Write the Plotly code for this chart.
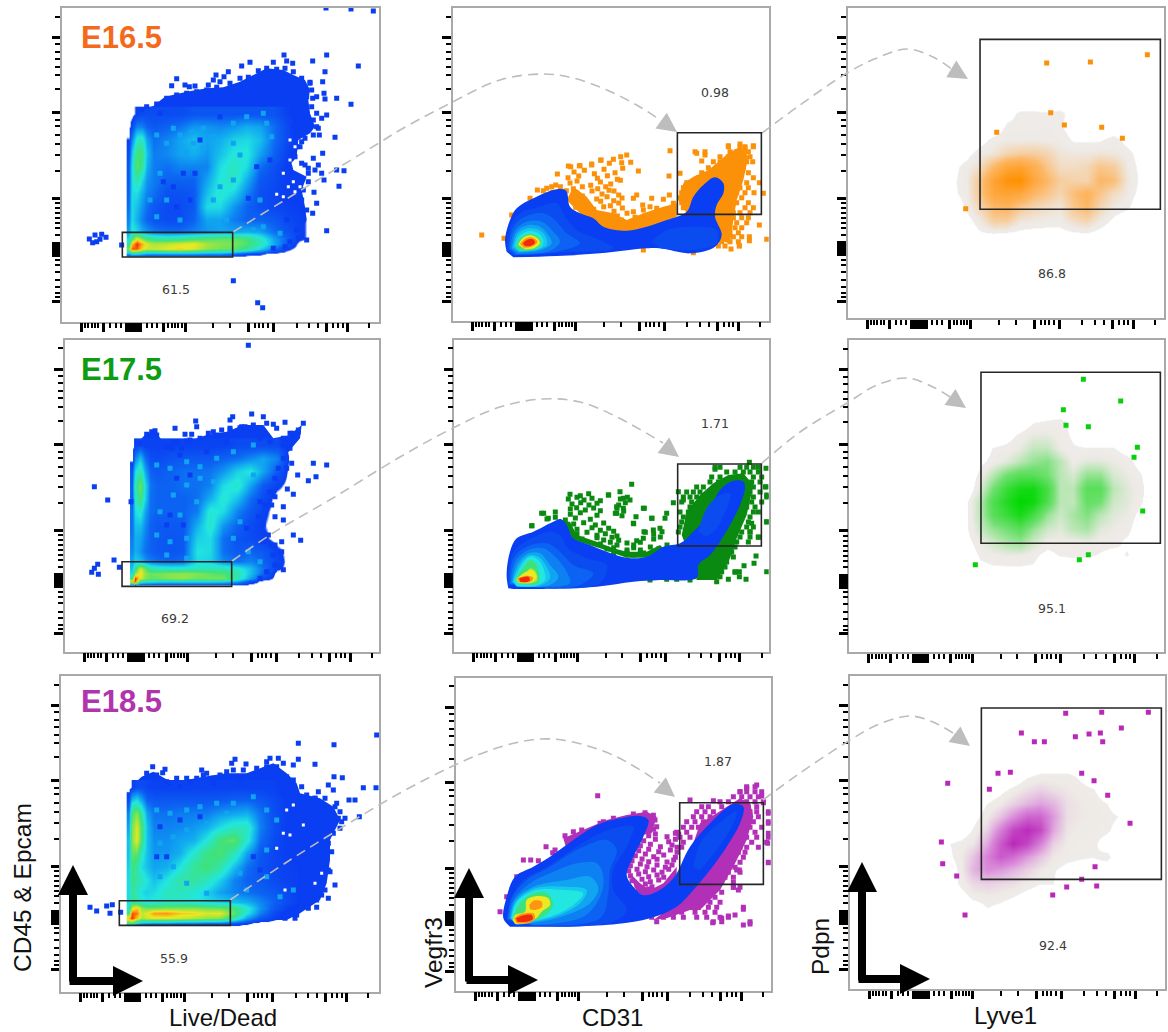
import plotly.graph_objects as go

# ---------- palette ----------
BLUE = "#0a3ef2"; B2 = "#0b4cf0"; B3 = "#0c62f2"; B4 = "#0d80f2"; B5 = "#10a4f1"; B6 = "#16c8ee"; CYAN = "#22e6e0"
GREEN = "#3fe27a"; LIME = "#a8e63c"; YELLOW = "#eee822"; ORANGE = "#ff9412"; RED = "#f02a0a"
ORANGE_DOT = "#fb9108"; GREEN_DOT = "#0b8a12"; PURPLE_DOT = "#b230b8"
JET = [[0, "rgba(10,62,242,0)"], [0.015, "rgba(10,62,242,0)"], [0.02, BLUE], [0.1, B3], [0.2, B5], [0.32, CYAN],
       [0.5, GREEN], [0.65, LIME], [0.75, YELLOW], [0.88, ORANGE], [1, RED]]
# (left, top, right, bottom of each frame on the page; range values in reading units)
FRAMES = {
 "11": (62.0, 8.0, 379.0, 321.7, 186, 1137, 965, 24),
 "12": (452.7, 8.0, 768.7, 320.7, 158, 1106, 962, 24),
 "13": (847.7, 8.0, 1163.7, 318.3, 143, 1091, 955, 24),
 "21": (64.7, 339.7, 379.0, 651.7, 194, 1137, 950, 14),
 "22": (454.3, 339.7, 768.7, 651.7, 163, 1106, 950, 14),
 "23": (849.3, 340.3, 1163.7, 652.3, 148, 1091, 952, 16),
 "31": (61.0, 676.0, 379.0, 991.7, 183, 1137, 965, 18),
 "32": (455.7, 677.7, 770.7, 990.7, 167, 1112, 962, 23),
 "33": (849.7, 676.0, 1164.7, 989.0, 149, 1094, 957, 18),
}
X_MAJOR = [58,124,192,198,204,210,216,222,228,233,236,304,369,559,634,794,856]
X_MINOR = [69,79,89,99,109,144,161,176,254,269,284,319,329,339,349,359,454,504,579,592,604,619,704,741,769,814,829,842,922]
Y_MAJOR = [89,314,571,705,711,717,723,729,735,741,881]
Y_MINOR = [26,109,131,154,176,201,244,336,354,381,408,441,489,586,601,616,631,646,661,681,756,771,791,816,836,856,868]
X_THICK = [58,124,304,369,559,634,794,856]
Y_THICK = [89,314,571,881]

# ---------- Live/Dead panels ----------
p11_outer = [(385,755),(384,640),(386,520),(390,430),(400,370),(418,330),(460,318),(495,290),(560,275),(620,265),(670,262),(720,245),(760,225),(800,205),(850,210),(880,225),(915,240),(930,270),(925,300),(930,340),(945,380),(930,400),(895,420),(890,470),(875,490),(880,510),(920,530),(905,570),(915,620),(920,660),(895,700),(880,715),(850,735),(800,750),(740,760),(640,760),(500,762),(385,762)]
p11_hx = [385,395,410,425,440,460,500,540,580,620,660,700,740,780,820,860,900,940]
p11_hy = [340,380,420,460,500,540,580,620,660,695,715,730,745,760,770]
p11_hz = [
 [0,0,.03,.05,.05,.05,.05,.05,.07,.07,.07,.07,.07,.07,.07,.03,0,0],
 [0,.05,.15,.15,.1,.08,.1,.13,.18,.18,.16,.18,.22,.2,.12,.05,0,0],
 [.02,.15,.35,.38,.2,.12,.15,.2,.25,.2,.22,.28,.3,.25,.12,.05,0,0],
 [.05,.25,.5,.5,.25,.14,.16,.2,.22,.18,.25,.33,.33,.2,.1,.03,0,0],
 [.08,.3,.55,.45,.22,.14,.12,.15,.15,.15,.3,.38,.3,.12,.06,.02,0,0],
 [.08,.3,.42,.3,.18,.14,.1,.1,.1,.2,.33,.38,.22,.08,.05,.02,0,0],
 [.1,.3,.3,.22,.15,.12,.06,.06,.08,.25,.35,.28,.15,.06,.04,.02,0,0],
 [.12,.3,.25,.18,.12,.08,.05,.05,.08,.3,.3,.18,.1,.06,.04,.03,.02,0],
 [.15,.3,.22,.15,.1,.07,.05,.05,.1,.2,.2,.14,.1,.1,.08,.05,.03,0],
 [.2,.35,.3,.22,.18,.14,.12,.12,.15,.18,.2,.2,.22,.2,.12,.07,.03,0],
 [.3,.5,.75,.6,.5,.45,.42,.45,.5,.52,.55,.55,.5,.38,.2,.1,.03,0],
 [.4,.8,1,.85,.72,.65,.68,.72,.75,.65,.6,.58,.52,.4,.22,.08,0,0],
 [.6,.95,.95,.78,.7,.7,.74,.78,.72,.62,.58,.55,.45,.3,.12,.03,0,0],
 [.2,.3,.3,.25,.2,.2,.2,.2,.2,.18,.18,.12,.05,.03,0,0,0,0],
 [0,0,0,0,0,0,0,0,0,0,0,0,0,0,0,0,0,0],
]
p11_dots = [(978,24),(1053,27),(1120,33),(852,165),(980,165),(938,183),(750,187),(725,198),(1075,198),(860,183),(820,187),(878,190),(530,236),(515,257),(555,255),(568,260),(585,258),(648,225),(640,240),(625,255),(685,215),(672,230),(660,245),(975,215),(968,245),(930,247),(972,280),(1010,295),(975,297),(1053,313),(980,345),(965,355),(1005,412),(958,405),(968,460),(940,475),(1010,510),(1032,512),(1017,559),(972,540),(942,577),(950,610),(938,640),(980,692),(920,720),(700,842),(773,908),(788,923),(915,495),(955,495),(965,520),(925,520),(890,440),(905,425),(950,380),(938,295),(950,290),(268,717),(285,705),(305,703),(318,712),(300,718),(278,728),(290,725),(365,735)]
p11_edge = [(440,320),(425,330),(470,312),(500,295),(530,285),(560,280),(590,275),(620,270),(650,262),(690,250),(720,235),(745,232),(775,212),(800,205),(830,208),(855,205),(880,215),(905,235),(930,250),(935,270),(920,290),(935,320),(950,340),(940,360),(955,385),(940,405),(915,415),(900,440),(885,470),(905,490),(925,505),(945,510),(925,545),(910,570),(905,600),(920,630),(910,660),(890,690),(895,715),(870,725),(855,740),(820,745)]
p11_light = [(540,405),(575,395),(610,385),(580,430),(640,410),(560,455),(610,445),(500,430),(470,405),(520,385),(700,370),(740,350),(790,340),(700,430),(720,465),(660,560),(640,600),(700,540),(815,410),(800,370),(480,520),(500,600),(450,600),(470,650),(540,660),(780,600),(790,680),(840,700),(680,660),(760,690)]
p11_dark = [(520,560),(550,520),(490,545),(570,600),(530,620),(585,520),(600,420),(660,350),(770,500),(745,595),(810,480),(850,600),(830,300),(540,310),(640,300),(480,340),(870,300),(880,380),(860,660)]
p11_holes = [(870,420),(885,440),(880,490),(870,480),(850,520),(880,545),(865,560),(885,575),(830,583),(850,590),(900,560)]

p21_outer = [(395,745),(395,640),(398,520),(395,440),(402,350),(410,325),(440,295),(465,290),(490,320),(520,345),(560,320),(620,300),(680,290),(730,270),(790,270),(820,310),(870,300),(905,270),(900,310),(870,345),(840,385),(825,440),(805,480),(790,520),(770,560),(800,600),(810,650),(830,690),(790,720),(730,735),(690,745),(500,745)]
p21_hx = [395,405,420,435,450,470,510,550,590,630,670,710,750,790,830,870]
p21_hy = [330,370,410,450,490,530,570,610,650,680,700,715,730,740,750]
p21_hz = [
 [0,.03,.05,.03,.03,.03,.03,.03,.03,.03,.03,.05,.05,.05,.05,0],
 [0,.15,.25,.12,.06,.05,.07,.08,.08,.08,.1,.12,.16,.2,.15,0],
 [.08,.3,.42,.2,.1,.08,.1,.12,.12,.13,.18,.28,.33,.2,.08,0],
 [.1,.4,.58,.3,.13,.1,.1,.12,.12,.15,.3,.36,.2,.08,.03,0],
 [.1,.35,.52,.28,.12,.1,.1,.1,.12,.22,.35,.25,.12,.05,0,0],
 [.12,.3,.35,.2,.12,.1,.1,.1,.14,.35,.3,.15,.08,.03,0,0],
 [.12,.25,.25,.16,.1,.08,.08,.08,.22,.36,.18,.1,.05,.02,0,0],
 [.14,.22,.2,.14,.1,.08,.07,.08,.28,.3,.12,.07,.05,.03,0,0],
 [.16,.22,.18,.12,.1,.08,.07,.08,.32,.3,.12,.08,.1,.08,.03,0],
 [.2,.28,.25,.18,.14,.12,.1,.12,.3,.28,.16,.12,.15,.1,.04,0],
 [.25,.45,.7,.55,.42,.38,.36,.36,.38,.4,.4,.35,.25,.12,.03,0],
 [.3,.62,.78,.62,.56,.58,.6,.62,.6,.55,.52,.42,.25,.1,0,0],
 [.5,1,.72,.6,.55,.56,.6,.62,.56,.58,.58,.4,.2,.05,0,0],
 [.8,.95,.4,.35,.33,.3,.3,.3,.3,.3,.28,.2,.05,0,0,0],
 [0,.02,0,0,0,0,0,0,0,0,0,0,0,0,0,0],
]
p21_dots = [(745,31),(755,237),(790,245),(698,245),(690,255),(587,258),(590,275),(525,280),(555,298),(575,298),(640,290),(665,285),(690,280),(725,275),(735,275),(765,280),(800,265),(820,268),(830,280),(855,262),(910,265),(895,290),(880,295),(283,455),(323,495),(393,500),(940,385),(980,390),(875,385),(860,400),(893,420),(925,437),(948,425),(862,462),(880,478),(850,515),(850,555),(880,600),(902,616),(845,620),(845,650),(850,704),(342,675),(358,697),(293,688),(275,712),(295,718),(283,700),(825,485),(815,510),(825,545),(825,630),(520,320),(560,318),(515,340),(465,287)]
p21_edge = [(420,325),(440,298),(455,290),(470,300),(500,335),(530,320),(545,340),(570,315),(600,310),(625,295),(650,300),(690,285),(720,278),(760,270),(785,290),(810,320),(850,310),(870,295),(895,285),(870,340),(850,370),(835,400),(825,430),(810,470),(795,510),(775,545),(790,570),(805,600),(815,630),(820,660),(825,690),(800,710),(780,730)]
p21_light = [(470,390),(510,400),(560,380),(600,395),(650,370),(700,350),(760,330),(560,450),(520,480),(480,530),(540,540),(590,500),(470,600),(510,620),(560,610),(500,660),(560,670),(720,560),(700,610),(745,650),(780,680),(760,420),(640,440),(600,430)]
p21_dark = [(530,430),(510,540),(500,570),(550,570),(570,420),(620,350),(680,320),(780,500),(740,580),(790,620),(540,360),(780,310),(850,330)]
p21_holes = []

p31_outer = [(383,760),(382,600),(384,390),(398,345),(425,320),(460,305),(520,340),(560,330),(610,320),(680,310),(740,310),(820,280),(860,310),(890,340),(900,370),(960,385),(1000,410),(1020,450),(990,510),(990,570),(980,640),(960,690),(900,730),(860,750),(780,750),(700,752),(385,762)]
p31_hx = [385,395,410,425,440,460,500,540,580,620,660,700,740,780,820,860,900,940]
p31_hy = [350,390,430,470,510,550,590,630,665,695,715,730,745,758,768]
p31_hz = [
 [0,.02,.05,.05,.04,.03,.03,.03,.03,.03,.03,.03,.03,.03,.03,0,0,0],
 [.05,.25,.3,.2,.1,.08,.08,.08,.08,.08,.08,.1,.1,.08,.05,.02,0,0],
 [.15,.5,.6,.4,.2,.13,.12,.14,.14,.14,.18,.2,.22,.13,.06,.02,0,0],
 [.2,.58,.72,.5,.25,.15,.15,.16,.18,.22,.3,.38,.38,.15,.06,.02,0,0],
 [.25,.6,.74,.48,.25,.17,.17,.2,.22,.33,.5,.55,.35,.12,.05,.02,0,0],
 [.25,.55,.55,.35,.25,.18,.18,.22,.35,.48,.52,.4,.2,.08,.04,.02,0,0],
 [.28,.5,.42,.3,.25,.2,.22,.32,.45,.5,.42,.25,.12,.07,.04,.03,.02,0],
 [.3,.48,.42,.38,.32,.25,.32,.42,.44,.38,.28,.15,.1,.08,.05,.03,.02,0],
 [.3,.45,.38,.3,.28,.3,.38,.38,.34,.28,.2,.15,.12,.1,.08,.05,.02,0],
 [.3,.45,.42,.35,.32,.34,.36,.36,.34,.3,.28,.25,.22,.16,.1,.05,.02,0],
 [.35,.7,.8,.62,.58,.58,.6,.6,.6,.58,.56,.5,.35,.18,.08,.03,0,0],
 [.5,.95,.92,.68,.74,.86,.88,.8,.78,.72,.74,.55,.32,.15,.05,0,0,0],
 [.8,1,.8,.65,.7,.72,.72,.7,.66,.62,.6,.42,.2,.08,.03,0,0,0],
 [.5,.5,.3,.22,.2,.18,.18,.15,.15,.12,.12,.08,.03,0,0,0,0,0],
 [0,0,0,0,0,0,0,0,0,0,0,0,0,0,0,0,0,0],
]
p31_dots = [(1130,195),(895,220),(1002,224),(705,268),(695,280),(738,282),(810,265),(835,265),(800,275),(850,280),(895,268),(945,283),(880,285),(1002,320),(1027,323),(1128,353),(1090,353),(495,298),(458,290),(488,308),(605,300),(610,315),(560,325),(570,335),(640,325),(665,320),(680,305),(510,340),(270,712),(290,723),(320,708),(337,704),(330,730),(362,727),(1047,390),(1065,390),(1035,445),(1015,445),(1078,440),(1020,475),(1010,400),(985,345),(1000,360),(955,365),(945,385),(990,605),(1005,645),(985,685),(965,675),(950,712),(925,715),(885,745)]
p31_edge = [(440,310),(470,315),(500,335),(530,325),(590,325),(620,310),(660,315),(700,300),(730,300),(770,295),(800,290),(830,290),(860,320),(880,330),(905,350),(920,375),(945,385),(975,385),(1005,410),(1020,425),(1025,455),(1000,490),(985,520),(995,545),(975,580),(985,600),(965,630),(975,660),(950,690),(920,710),(890,735),(855,745)]
p31_light = [(470,420),(510,430),(560,420),(600,410),(650,400),(700,400),(760,380),(800,420),(480,520),(520,500),(560,480),(620,460),(520,590),(480,620),(720,610),(740,660),(800,620),(840,680),(880,660),(800,540),(830,450),(620,670),(560,640),(680,430)]
p31_dark = [(480,470),(540,450),(600,440),(500,560),(470,560),(760,560),(780,600),(860,500),(920,560),(900,620),(950,480),(880,420),(640,340),(720,330),(540,350),(790,310)]
p31_holes = [(860,420),(880,405),(910,465),(870,495),(850,490),(830,535),(855,660),(965,610),(945,640)]

# ---------- CD31 panels ----------
p12_cloud_right = [(950,720),(990,730),(1000,660),(1010,600),(1030,540),(1045,470),(1020,440),(985,460),(950,490),(925,510),(880,530),(850,550),(835,600),(860,640)]
p12_cloud_left = [(500,600),(520,560),(560,590),(590,630),(640,640),(680,660),(730,640),(790,620),(830,610),(830,650),(700,700),(590,690)]
p12_dots = [(245,705),(312,715),(1100,718),(1090,580),(1078,675),(1048,722),(1018,737),(993,747),(810,452),(807,528),(840,520),(890,460),(915,465),(905,483),(985,437),(1060,437),(1020,432),(1035,445),(680,465),(662,470),(640,478),(665,488),(692,487),(715,513),(603,480),(575,495),(540,497),(505,498),(472,522),(467,555),(455,560),(440,565),(412,570),(430,572),(390,595),(335,645),(710,585),(700,595),(755,595),(750,620),(728,615),(790,598),(808,585),(770,625),(820,610),(880,758),(730,750)]
p12_hump = [(512,500),(538,497),(575,492),(602,481),(628,490),(522,516),(553,511),(583,521),(612,508),(645,518),(668,505),(504,533),(536,528),(592,535),(622,527),(652,538),(510,549),(531,543),(572,556),(601,546),(632,552),(661,541),(481,560),(520,566),(547,560),(593,566),(617,560),(642,573),(457,577),(499,572),(530,579),(576,573),(606,582),(627,571),(656,585),(516,593),(547,588),(590,597),(621,590),(641,602),(666,594),(531,606),(562,611),(602,604),(631,617),(656,609),(527,622),(581,628),(611,620),(642,634),(667,624),(681,640),(562,640),(592,645),(622,652),(652,648),(700,635),(730,630),(705,652),(735,648),(762,640),(782,632),(645,668),(664,660),(692,668),(722,660),(752,655),(652,682),(682,678),(702,685)]
p12_rows = {440:[985,1020,1035,1060],455:[885,915,990,1010,1030,1045],470:[960,985,1000,1025,1050],485:[940,960,980,1005,1040,1058],503:[925,950,975,1000,1030],518:[905,930,960,985,1020,1045],533:[895,920,945,1000,1015,1060],548:[860,880,905,1000,1040,1078],563:[850,870,890,985,1020,1045],578:[845,875,985,1010,1035,1062],593:[840,870,965,1000,1025],608:[845,860,960,985,1010,1045],623:[850,955,985,1035,1060],638:[945,975,1000,1020,1050],653:[950,970,1000,1025,1045],668:[955,985,1010,1040],683:[965,985,1005,1025],698:[970,990,1015],710:[975,1000,1025,1048],725:[965,990,1015],738:[955,975,1018]}
p12_outer = [(320,755),(315,720),(330,660),(350,625),(400,595),(470,568),(498,572),(510,620),(540,640),(580,655),(610,680),(680,692),(740,680),(800,660),(860,635),(880,590),(910,555),(945,532),(970,550),(970,580),(950,615),(945,650),(965,705),(945,740),(870,760),(780,745),(740,745),(600,760),(470,768),(340,772)]
p12_b2 = [(320,752),(330,680),(360,640),(420,620),(470,610),(495,650),(530,690),(600,720),(640,745),(480,758),(340,765)]
p12_b2r = [(755,725),(800,690),(900,680),(950,690),(950,730),(880,750),(780,745)]
p12_b3 = [(325,745),(340,680),(375,650),(430,640),(465,660),(500,700),(540,730),(470,755),(345,765)]
p12_b4 = [(330,745),(345,690),(380,665),(425,665),(455,690),(480,725),(450,752),(350,762)]
p12_b5 = [(335,745),(350,695),(385,675),(420,680),(445,705),(455,730),(425,750),(355,758)]
p12_b6 = [(340,742),(352,703),(385,685),(418,690),(438,712),(440,735),(410,750),(358,755)]
p12_cyan = [(345,738),(358,708),(388,693),(415,700),(430,720),(425,740),(395,750),(358,752)]
p12_green = [(348,736),(362,713),(388,702),(412,708),(425,728),(410,745),(375,752),(355,750)]
p12_yellow = [(354,734),(366,716),(390,706),(412,715),(420,730),(402,745),(375,748)]
p12_orange = [(360,732),(375,716),(395,712),(412,725),(395,740),(372,743)]
p12_red = [(368,730),(380,720),(398,718),(405,728),(390,738),(375,738)]

p22_cloud_right = [(890,735),(950,735),(990,670),(1010,610),(1040,540),(1060,450),(1030,415),(985,420),(940,445),(900,480),(860,530),(845,600),(860,640),(880,700)]
p22_cloud_left = [(490,560),(510,560),(530,600),(590,620),(640,640),(680,650),(740,650),(780,630),(790,640),(740,668),(680,668),(600,640),(520,615)]
p22_dots = [(695,448),(660,470),(670,490),(690,495),(625,480),(730,520),(650,515),(670,520),(650,535),(708,545),(700,565),(755,550),(800,535),(795,550),(820,503),(835,470),(850,495),(732,590),(760,585),(780,580),(710,617),(730,610),(395,572),(425,535),(445,550),(1100,710),(1068,663),(1062,685),(1032,692),(1038,733),(1018,710),(1005,712),(985,733),(1100,560),(1100,480),(1098,455),(1075,607),(1055,565),(1050,590),(950,740),(870,735),(830,733),(800,733),(750,735),(945,403),(1048,382),(1098,400)]
p22_hump = [(510,478),(541,482),(566,476),(626,480),(505,492),(531,487),(552,495),(576,490),(601,497),(661,492),(682,487),(516,507),(542,503),(567,510),(591,505),(656,510),(676,503),(511,522),(530,518),(556,525),(581,519),(601,527),(651,520),(671,528),(733,520),(431,535),(466,531),(511,538),(541,533),(591,541),(646,535),(666,542),(441,552),(466,547),(496,555),(526,549),(571,553),(756,550),(521,567),(551,563),(586,570),(611,564),(701,566),(396,572),(531,583),(576,578),(601,586),(626,580),(641,589),(531,597),(561,592),(591,601),(616,596),(651,603),(736,592),(761,598),(786,590),(546,612),(591,608),(611,615),(636,607),(656,616),(761,612),(781,606),(601,627),(631,622),(651,630),(681,624),(701,630),(721,622),(621,642),(641,638),(681,645),(701,638),(721,645),(751,636),(776,642),(801,630),(641,656),(681,652),(701,660),(731,654),(761,650)]
p22_rows = {397:[945,960,1020,1040,1060,1075],411:[980,1005,1030,1050,1075],426:[935,960,1060,1085],441:[930,955,1055,1080],456:[890,910,1060,1095],471:[860,880,900,1050,1080],486:[850,870,890,1060,1100],501:[845,875,1055,1085],516:[870,1040,1065],531:[840,865,1030,1060,1075],546:[850,880,1025,1050],561:[845,1015,1045,1100],576:[840,1005,1040,1060],591:[835,1000,1025,1050],606:[1000,1020,1050,1075],621:[985,1010,1045],636:[965,985,1005],651:[950,970,995],666:[930,955,980,1000],681:[910,935,955,980],696:[905,930,955,975],710:[895,920,945,965,1005],725:[880,905,930,960,1018]}
p22_outer = [(325,760),(320,720),(330,650),(350,610),(400,590),(460,560),(482,552),(500,570),(520,610),(570,630),(620,650),(680,668),(740,665),(790,635),(840,625),(880,590),(920,545),(960,465),(1000,437),(1030,440),(1035,460),(1020,510),(990,570),(960,620),(930,660),(895,690),(890,728),(780,735),(700,740),(590,755),(400,762),(340,762)]
p22_b2 = [(325,750),(335,660),(375,620),(450,590),(480,600),(505,640),(560,670),(620,690),(600,745),(400,757)]
p22_lobe = [(895,590),(920,520),(960,480),(990,475),(980,520),(950,580),(920,605)]
p22_b3 = [(328,748),(340,670),(380,635),(440,625),(480,650),(520,690),(580,715),(540,750),(400,757)]
p22_b4 = [(332,745),(345,680),(385,645),(430,640),(470,670),(500,710),(510,745),(420,755)]
p22_b5 = [(336,742),(350,690),(385,655),(420,655),(450,690),(475,725),(450,750),(360,755)]
p22_b6 = [(338,740),(355,695),(385,662),(415,665),(440,695),(450,730),(420,752),(350,755)]
p22_cyan = [(342,738),(362,695),(390,665),(415,675),(432,705),(435,735),(405,752),(350,752)]
p22_green = [(345,735),(368,700),(392,675),(410,690),(418,720),(415,745),(370,748)]
p22_lime = [(348,732),(375,715),(392,700),(408,712),(412,735),(395,745),(355,745)]
p22_yellow = [(352,730),(375,712),(395,705),(410,725),(395,742),(358,742)]
p22_orange = [(352,730),(380,722),(400,728),(392,740),(358,742)]
p22_red = [(358,730),(385,725),(390,735),(380,741),(360,740)]

p32_cloud_right = [(880,620),(830,700),(760,750),(800,745),(870,720),(900,720),(960,660),(1000,590),(1040,510),(1060,440),(1050,400),(1020,385),(950,430),(900,460),(880,520),(900,580)]
p32_cloud_left = [(700,640),(690,610),(720,640),(750,660),(790,640),(830,590),(830,640),(790,670),(740,682),(710,665)]
p32_cloud_top = [(490,505),(560,475),(620,450),(680,435),(740,425),(770,440),(755,490),(700,500),(600,500),(500,540)]
p32_dots = [(593,377),(1105,430),(1105,460),(1105,490),(1103,520),(1105,578),(1085,378),(1070,345),(1040,355),(1020,365),(1090,398),(1030,718),(1050,762),(1030,765),(1005,735),(985,738),(965,745),(938,758),(1015,660),(1000,652),(870,390),(940,392),(370,570),(392,570),(438,530),(458,548),(495,497),(520,485),(320,680),(300,725),(1010,600),(1018,600),(640,445),(610,455),(700,432),(735,428),(760,436),(765,450),(750,465),(600,460),(545,480),(465,540),(415,572),(350,620)]
p32_hump = [(770,470),(735,473),(740,482),(761,478),(826,490),(746,497),(766,492),(801,500),(836,493),(731,512),(766,508),(806,515),(826,508),(721,527),(751,523),(781,530),(816,525),(831,532),(716,542),(746,538),(776,545),(811,540),(831,547),(706,557),(736,552),(761,560),(791,555),(826,562),(696,572),(726,567),(746,575),(771,568),(801,576),(821,570),(691,587),(721,582),(741,590),(771,585),(796,592),(816,585),(686,602),(711,598),(736,605),(761,600),(786,607),(806,598),(691,617),(716,612),(746,620),(771,615),(791,622),(696,632),(726,628),(751,635),(776,630),(711,647),(736,642),(756,650),(726,662),(746,657)]
p32_rows = {350:[1040,1065],365:[1020,1040,1065,1085],380:[1000,1025,1050,1075],395:[960,985,1040,1065,1090],410:[905,925,965,1045,1070],425:[890,915,940,1050,1070,1105],440:[880,905,930,1045,1075],455:[860,885,910,1035,1060,1105],472:[850,875,895,1035,1050,1085],487:[830,860,1030,1065],502:[840,870,1020,1040,1070,1105],517:[850,1005,1025,1055,1100],532:[845,995,1020,1040,1075],547:[985,1015,1035],562:[975,1000,1030],577:[960,990,1020,1105],592:[945,975,1005],607:[930,955,985,1020],622:[915,950,975,1000],637:[895,930,965,1000],652:[880,915,950,1000,1020],667:[860,895,930,965],682:[850,880,915,945],697:[840,870,905,930,960],712:[830,860,895,925,950,1030],727:[815,845,885,915,945],742:[755,790,820,850,890,920,960,985],755:[770,940,965,1050]}
p32_outer = [(330,770),(310,745),(320,680),(345,620),(400,590),(450,560),(520,510),(590,465),(660,445),(720,438),(745,450),(730,500),(700,560),(680,615),(700,650),(730,675),(770,665),(820,625),(870,530),(930,460),(1000,402),(1030,410),(1020,460),(980,530),(930,600),(880,660),(830,710),(750,745),(650,762),(500,770)]
p32_b2 = [(320,750),(335,680),(370,630),(440,590),(530,530),(600,490),(660,470),(700,470),(680,530),(640,600),(640,660),(680,720),(640,755),(400,768)]
p32_lobe = [(880,590),(900,520),(950,465),(1010,425),(990,480),(950,540),(900,600)]
p32_b3 = [(322,748),(335,685),(380,630),(450,590),(540,535),(620,510),(650,540),(630,600),(625,670),(600,745),(400,765)]
p32_b4 = [(325,745),(340,690),(390,640),(450,610),(530,580),(590,580),(610,620),(600,680),(550,740),(400,765)]
p32_b5 = [(330,745),(345,690),(400,650),(500,630),(570,620),(595,655),(570,700),(470,745),(350,765)]
p32_b6 = [(332,745),(348,695),(405,655),(495,650),(560,660),(540,700),(460,742),(350,762)]
p32_cyan = [(335,745),(350,695),(410,660),(490,660),(550,670),(520,705),(450,740),(350,758)]
p32_green = [(338,745),(360,700),(400,670),(440,670),(460,705),(420,745),(350,760)]
p32_yellow = [(338,750),(345,735),(375,725),(380,690),(410,678),(445,685),(450,705),(425,725),(408,745),(380,760),(345,762)]
p32_orange_up = [(388,705),(400,692),(425,695),(425,712),(405,720),(390,718)]
p32_orange_low = [(342,745),(360,733),(400,730),(405,745),(390,758),(350,760)]
p32_red = [(348,745),(365,737),(395,735),(398,748),(380,755),(352,755)]

# ---------- Lyve1 panels ----------
p13_x = [460,500,540,580,620,660,700,740,780,820,860,900,940,980,1020]
p13_y = [300,340,380,420,460,500,540,580,620,660,700,740]
p13_z = [
 [0,0,0,0,0,0,0,0,0,0,0,0,0,0,0],
 [0,0,0,0,.05,.12,.12,.11,.13,.04,0,0,0,0,0],
 [0,0,0,0,.12,.13,.12,.14,.11,.05,0,0,0,0,0],
 [0,0,.05,.14,.16,.16,.17,.16,.14,.09,.09,.09,.15,.06,0],
 [0,.06,.15,.2,.3,.35,.35,.3,.2,.18,.18,.2,.18,.14,.05],
 [.07,.14,.25,.5,.7,.75,.6,.4,.25,.25,.28,.4,.35,.17,.07],
 [.08,.17,.4,.75,.95,1,.7,.5,.35,.32,.3,.5,.45,.2,.08],
 [.08,.15,.4,.7,.75,.7,.5,.4,.3,.45,.55,.4,.25,.17,.06],
 [0,.13,.3,.5,.55,.4,.3,.25,.2,.4,.5,.3,.17,.13,0],
 [0,.05,.17,.35,.35,.2,.17,.15,.15,.25,.3,.17,.07,0,0],
 [0,0,.08,.1,.08,.06,.05,.05,.05,.08,.09,.05,0,0,0],
 [0,0,0,0,0,0,0,0,0,0,0,0,0,0,0],
]
p13_dots = [(740,189),(871,186),(1042,164),(752,338),(793,375),(905,382),(590,397),(967,415),(497,626)]

p23_x = [500,540,580,620,660,700,740,780,820,860,900,940,980,1020,1060]
p23_y = [220,260,300,340,380,420,460,500,540,580,620,660,700,740]
p23_z = [
 [0,0,0,0,0,0,0,0,0,0,0,0,0,0,0],
 [0,0,0,0,0,.09,.11,.13,.06,0,0,0,0,0,0],
 [0,0,0,.05,.12,.18,.18,.14,.08,0,0,0,0,0,0],
 [0,0,.11,.13,.18,.28,.28,.16,.11,.11,.11,.11,.05,0,0],
 [0,.07,.14,.2,.3,.4,.45,.3,.15,.2,.2,.17,.14,.05,0],
 [0,.13,.3,.5,.6,.6,.5,.3,.22,.4,.4,.22,.17,.11,0],
 [0,.2,.5,.75,.9,.92,.7,.3,.3,.6,.6,.3,.2,.14,0],
 [.09,.3,.65,.85,1,.95,.65,.3,.28,.55,.5,.25,.2,.12,0],
 [.09,.3,.6,.75,.9,.7,.4,.25,.35,.45,.3,.2,.17,.06,0],
 [.09,.25,.4,.5,.6,.4,.25,.2,.3,.35,.2,.17,.14,0,0],
 [.06,.17,.25,.35,.4,.25,.15,.15,.15,.17,.14,.14,.07,0,0],
 [0,.12,.15,.17,.17,.13,.06,.11,.12,.12,.09,.05,.11,0,0],
 [0,.06,.08,.08,.08,.08,0,0,0,0,0,0,0,0,0],
 [0,0,0,0,0,0,0,0,0,0,0,0,0,0,0],
]
p23_dots = [(850,133),(962,198),(790,224),(865,275),(798,271),(1012,337),(1002,367),(1028,528),(526,689),(838,674),(865,659)]

p33_x = [440,480,520,560,600,640,680,720,760,800,840,880,920,960,1000]
p33_y = [280,320,360,400,440,480,520,560,600,640,680,720,760]
p33_z = [
 [0,0,0,0,0,0,0,0,0,0,0,0,0,0,0],
 [0,0,0,0,0,0,.09,.13,.14,.14,.08,0,0,0,0],
 [0,0,0,0,.06,.13,.2,.25,.2,.17,.14,.11,0,0,0],
 [0,0,0,.1,.16,.25,.35,.42,.35,.2,.17,.15,.1,0,0],
 [0,0,.05,.16,.3,.5,.7,.7,.45,.2,.17,.15,.14,.09,0],
 [0,0,.11,.25,.55,.85,.98,.85,.4,.18,.15,.14,.12,.03,0],
 [.09,.13,.18,.4,.75,1,.85,.55,.25,.15,.13,.12,.04,0,0],
 [.07,.14,.3,.55,.75,.65,.45,.3,.17,.13,.11,.1,.13,0,0],
 [0,.13,.35,.5,.45,.35,.25,.17,.11,.06,.05,.06,.03,0,0],
 [0,.12,.22,.25,.22,.2,.15,.1,.1,0,0,0,0,0,0],
 [0,.03,.13,.15,.14,.1,.04,0,.04,0,0,0,0,0,0],
 [0,0,0,.09,.05,0,0,0,0,0,0,0,0,0,0],
 [0,0,0,0,0,0,0,0,0,0,0,0,0,0,0],
]
p33_dots = [(797,130),(905,127),(1045,127),(664,189),(703,215),(733,215),(826,200),(867,192),(901,189),(908,215),(964,174),(594,310),(631,307),(568,358),(443,340),(845,310),(882,332),(923,376),(990,460),(424,516),(428,581),(470,618),(845,628),(800,651),(890,648),(758,675),(885,590),(495,735)]

# ---------- gates, labels ----------
GATES = {"11":(367,698,697,771),"21":(366,695,680,754),"31":(358,691,692,766),
         "12":(832,1084,398,643),"22":(833,1084,387,633),"32":(839,1090,398,643),
         "13":(540,1081,118,628),"23":(543,1081,112,625),"33":(544,1084,114,628)}
GATE_TEXT = {"11":("61.5",528,868),"21":("69.2",525,851),"31":("55.9",521,864),
             "12":("0.98",945,276),"22":("1.71",946,265),"32":("1.87",953,274),
             "13":("86.8",757,822),"23":("95.1",757,822),"33":("92.4",760,825)}
STAGES = {"11":("E16.5","#f46a1c",365,112),"21":("E17.5","#0d9c12",365,103),"31":("E18.5","#b034ab",365,95)}

# ---------- connectors (page pixels) ----------
link_r1a = [(233,232),(293,195),(379,143),(400,130),(443,107),(500,80),(543,74),(573,78),(607,90),(640,107),(663,122)]
link_r1b = [(762,133),(800,105),(847,73),(877,58),(907,49),(933,57),(953,70)]
link_r2a = [(232,561),(273,533),(333,498),(400,457),(453,428),(500,407),(543,399),(580,402),(617,417),(663,443)]
link_r2b = [(762,463),(800,432),(847,403),(877,385),(907,378),(933,387),(950,397)]
link_r3a = [(230,900),(290,860),(333,833),(400,793),(455,765),(500,747),(540,739),(573,742),(617,757),(660,783)]
link_r3b = [(763,800),(800,773),(847,742),(877,725),(910,716),(933,722),(953,733)]
grey_tips = [(677,132,663,122),(968,79,953,70),(679,457,663,445),(966,408,950,397),(675,797,660,785),(970,746,953,733)]
black_arrows = [(73,983,73,865),(68,981,143,981),(469,983,469,868),(465,980,538,980),(862,982,862,862),(857,979,930,979)]
axis_x_titles = [("Live/Dead",223,1017),("CD31",612,1017),("Lyve1",1005,1015)]
axis_y_titles = [("CD45 & Epcam",22,888),("Vegfr3",433,953),("Pdpn",820,947)]

fig = go.Figure()
W, H = 1168, 1032
ids = {k: i + 1 for i, k in enumerate(FRAMES)}
below_shapes = []

def ax(k):
    n = ids[k]
    return ("x" if n == 1 else f"x{n}"), ("y" if n == 1 else f"y{n}")

def rows(d):
    return [(x, y) for y, xs in d.items() for x in xs]

def blob(k, pts, color, smooth=True):
    xa, ya = ax(k)
    fig.add_trace(go.Scatter(x=[p[0] for p in pts], y=[p[1] for p in pts], xaxis=xa, yaxis=ya, mode="lines",
                             fill="toself", fillcolor=color, hoverinfo="skip",
                             line=dict(width=0, shape="spline" if smooth else "linear", smoothing=1, color=color)))

def dots(k, pts, color, size=5):
    if not pts:
        return
    xa, ya = ax(k)
    fig.add_trace(go.Scatter(x=[p[0] for p in pts], y=[p[1] for p in pts], xaxis=xa, yaxis=ya, mode="markers",
                             hoverinfo="skip", marker=dict(symbol="square", size=size, color=color, line=dict(width=0))))

def density(k, xs, ys, zs, mid, peak):
    xa, ya = ax(k)
    fig.add_trace(go.Heatmap(x=xs, y=ys, z=zs, xaxis=xa, yaxis=ya, zmin=0, zmax=1, zsmooth="best", showscale=False,
                             hoverinfo="skip",
                             colorscale=[[0, "rgba(255,255,255,0)"], [0.095, "rgba(255,255,255,0)"],
                                         [0.10, "#eeecea"], [0.16, "#eeeae6"], [0.5, mid], [1, peak]]))

def live_dead(k, outer, hx, hy, hz, sparse, edge, light, dark, holes):
    xa, ya = ax(k)
    path = "M" + " L".join(f"{x},{y}" for x, y in outer) + " Z"
    below_shapes.append(dict(type="path", path=path, xref=xa, yref=ya, layer="below", fillcolor=BLUE, line=dict(width=0)))
    fig.add_trace(go.Heatmap(x=hx, y=hy, z=hz, xaxis=xa, yaxis=ya, zmin=0, zmax=1, zsmooth="best", showscale=False,
                             hoverinfo="skip", colorscale=JET))
    dots(k, sparse, BLUE)
    dots(k, edge, BLUE)
    dots(k, dark, BLUE)
    dots(k, light, B5)
    dots(k, holes, "white", 3)

live_dead("11", p11_outer, p11_hx, p11_hy, p11_hz, p11_dots, p11_edge, p11_light, p11_dark, p11_holes)
live_dead("21", p21_outer, p21_hx, p21_hy, p21_hz, p21_dots, p21_edge, p21_light, p21_dark, p21_holes)
live_dead("31", p31_outer, p31_hx, p31_hy, p31_hz, p31_dots, p31_edge, p31_light, p31_dark, p31_holes)

# CD31
for k, col, clouds, d, hump, r in [("12", ORANGE_DOT, [p12_cloud_right, p12_cloud_left], p12_dots, p12_hump, p12_rows),
                                   ("22", GREEN_DOT, [p22_cloud_right, p22_cloud_left], p22_dots, p22_hump, p22_rows),
                                   ("32", PURPLE_DOT, [p32_cloud_right, p32_cloud_left, p32_cloud_top], p32_dots, p32_hump, p32_rows)]:
    for c in clouds:
        blob(k, c, col, False)
    dots(k, d, col)
    dots(k, hump, col)
    dots(k, rows(r), col)
for pts, c in [(p12_outer, BLUE), (p12_b2, B2), (p12_b2r, B2), (p12_b3, B3), (p12_b4, B4), (p12_b5, B5), (p12_b6, B6), (p12_cyan, CYAN),
               (p12_green, GREEN), (p12_yellow, YELLOW), (p12_orange, ORANGE), (p12_red, RED)]:
    blob("12", pts, c)
for pts, c in [(p22_outer, BLUE), (p22_b2, B2), (p22_lobe, B2), (p22_b3, B3), (p22_b4, B4), (p22_b5, B5), (p22_b6, B6), (p22_cyan, CYAN),
               (p22_green, GREEN), (p22_lime, LIME), (p22_yellow, YELLOW), (p22_orange, ORANGE), (p22_red, RED)]:
    blob("22", pts, c)
for pts, c in [(p32_outer, BLUE), (p32_b2, B2), (p32_lobe, B2), (p32_b3, B3), (p32_b4, B4), (p32_b5, B5), (p32_b6, B6), (p32_cyan, CYAN),
               (p32_green, GREEN), (p32_yellow, YELLOW), (p32_orange_up, ORANGE), (p32_orange_low, ORANGE), (p32_red, RED)]:
    blob("32", pts, c)

# Lyve1
density("13", p13_x, p13_y, p13_z, "#fdb765", "#ff9000"); dots("13", p13_dots, "#fb9108")
density("23", p23_x, p23_y, p23_z, "#70e070", "#00d800"); dots("23", p23_dots, "#08d008")
density("33", p33_x, p33_y, p33_z, "#da8cda", "#ba28ba"); dots("33", p33_dots, "#ba28ba")

layout = dict(width=W, height=H, margin=dict(l=0, r=0, t=0, b=0), paper_bgcolor="white", plot_bgcolor="rgba(0,0,0,0)",
              showlegend=False, annotations=[], shapes=list(below_shapes))
for k, (l, t, r, b, x0, x1, y0, y1) in FRAMES.items():
    n = ids[k]
    sx = "" if n == 1 else str(n)
    common = dict(showgrid=False, zeroline=False, showline=True, mirror=True, linecolor="#a9a9a9", linewidth=1.5,
                  showticklabels=False, ticks="outside", tickcolor="black", ticklen=8.5, tickwidth=3, fixedrange=True)
    layout["xaxis" + sx] = dict(common, domain=[l / W, r / W], range=[x0, x1], anchor="y" + sx,
                                tickvals=[x0 + v for v in X_MAJOR],
                                minor=dict(tickvals=[x0 + v for v in X_MINOR], ticks="outside", ticklen=5, tickwidth=1.5, tickcolor="black"))
    layout["yaxis" + sx] = dict(common, domain=[1 - b / H, 1 - t / H], range=[y0, y1], anchor="x" + sx,
                                tickvals=[y1 + v for v in Y_MAJOR],
                                minor=dict(tickvals=[y1 + v for v in Y_MINOR], ticks="outside", ticklen=5, tickwidth=1.5, tickcolor="black"))
    xa, ya = ax(k)
    # heavier decade ticks, drawn outside the frame
    fig.add_trace(go.Scatter(x=[x0 + v for v in X_THICK], y=[y0 + 12.5] * len(X_THICK), xaxis=xa, yaxis=ya, mode="markers", cliponaxis=False,
                             hoverinfo="skip", marker=dict(symbol="line-ns", size=8.5, line=dict(width=3, color="black"))))
    fig.add_trace(go.Scatter(x=[x0 - 12.5] * len(Y_THICK), y=[y1 + v for v in Y_THICK], xaxis=xa, yaxis=ya, mode="markers", cliponaxis=False,
                             hoverinfo="skip", marker=dict(symbol="line-ew", size=8.5, line=dict(width=3, color="black"))))
    g = GATES[k]
    layout["shapes"].append(dict(type="rect", xref=xa, yref=ya, x0=g[0], x1=g[1], y0=g[2], y1=g[3], layer="above",
                                 line=dict(color="#262626", width=1.6)))
    txt, tx, ty = GATE_TEXT[k]
    layout["annotations"].append(dict(text=txt, xref=xa, yref=ya, x=tx, y=ty, showarrow=False,
                                      font=dict(family="DejaVu Sans", size=12.5, color="#3a3a3a")))
    if k in STAGES:
        s, c, sxp, syp = STAGES[k]
        layout["annotations"].append(dict(text=f"<b>{s}</b>", xref=xa, yref=ya, x=sxp, y=syp, showarrow=False,
                                          font=dict(family="Liberation Sans", size=31, color=c)))

# page overlay in pixels
layout["xaxis10"] = dict(domain=[0, 1], range=[0, W], anchor="y10", visible=False, fixedrange=True)
layout["yaxis10"] = dict(domain=[0, 1], range=[H, 0], anchor="x10", visible=False, fixedrange=True)
for link in [link_r1a, link_r1b, link_r2a, link_r2b, link_r3a, link_r3b]:
    fig.add_trace(go.Scatter(x=[p[0] for p in link], y=[p[1] for p in link], xaxis="x10", yaxis="y10", mode="lines",
                             hoverinfo="skip", line=dict(color="#bdbdbd", width=1.6, dash="10px,6px", shape="spline", smoothing=1)))
for tx, ty, fx, fy in grey_tips:
    layout["annotations"].append(dict(x=tx, y=ty, ax=fx, ay=fy, xref="x10", yref="y10", axref="x10", ayref="y10", text="",
                                      showarrow=True, arrowhead=2, arrowsize=2.6, arrowwidth=1.5, arrowcolor="#bdbdbd"))
for fx, fy, tx, ty in black_arrows:
    layout["annotations"].append(dict(x=tx, y=ty, ax=fx, ay=fy, xref="x10", yref="y10", axref="x10", ayref="y10", text="",
                                      showarrow=True, arrowhead=2, arrowsize=0.75, arrowwidth=8, arrowcolor="black"))
for t, x, y in axis_x_titles:
    layout["annotations"].append(dict(text=t, x=x, y=y, xref="x10", yref="y10", showarrow=False,
                                      font=dict(family="Liberation Sans", size=24, color="#111")))
for t, x, y in axis_y_titles:
    layout["annotations"].append(dict(text=t, x=x, y=y, xref="x10", yref="y10", showarrow=False, textangle=-90,
                                      font=dict(family="Liberation Sans", size=24.5, color="#111")))
fig.update_layout(**layout)
fig.write_html("out.html", config=dict(displayModeBar=False), post_script="document.body.style.margin='0';")
